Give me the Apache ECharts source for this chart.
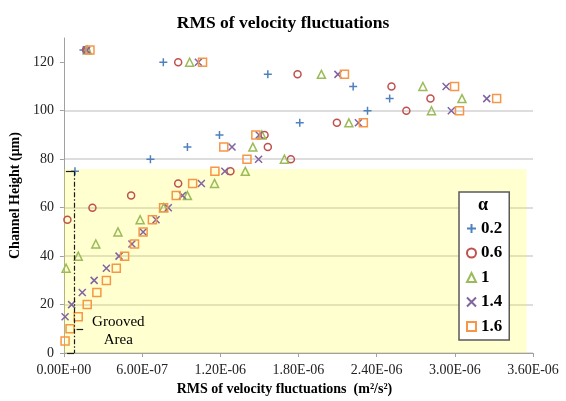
<!DOCTYPE html>
<html>
<head>
<meta charset="utf-8">
<script src="https://cdn.jsdelivr.net/npm/echarts@6/dist/echarts.min.js"></script>
<style>
  html, body { margin: 0; padding: 0; background: #fff; }
  #chart { width: 566px; height: 401px; }
</style>
</head>
<body>
<div id="chart"></div>
<script>
// Legend entries (alpha values)
const alphaNames = ['0.2', '0.6', '1', '1.4', '1.6'];

// Channel height (um) and RMS of velocity fluctuations (m^2/s^2) per alpha
const height02 = [75, 80, 85, 90, 95, 100, 105, 110, 115, 120, 125];
const rms02 = [8.5e-8, 6.64e-7, 9.48e-7, 1.194e-6, 1.81e-6, 2.33e-6, 2.50e-6, 2.22e-6, 1.565e-6, 7.63e-7, 1.5e-7];

const height06 = [55, 60, 65, 70, 75, 80, 85, 90, 95, 100, 105, 110, 115, 120, 125];
const rms06 = [2.7e-8, 2.19e-7, 5.16e-7, 8.77e-7, 1.278e-6, 1.742e-6, 1.565e-6, 1.54e-6, 2.095e-6, 2.628e-6, 2.813e-6, 2.514e-6, 1.793e-6, 8.77e-7, 1.7e-7];

const height10 = [35, 40, 45, 50, 55, 60, 65, 70, 75, 80, 85, 90, 95, 100, 105, 110, 115, 120, 125];
const rms10 = [1.7e-8, 1.1e-7, 2.45e-7, 4.15e-7, 5.85e-7, 7.65e-7, 9.48e-7, 1.156e-6, 1.392e-6, 1.692e-6, 1.45e-6, 1.519e-6, 2.187e-6, 2.821e-6, 3.055e-6, 2.755e-6, 1.976e-6, 9.65e-7, 1.8e-7];

const height14 = [15, 20, 25, 30, 35, 40, 45, 50, 55, 60, 65, 70, 75, 80, 85, 90, 95, 100, 105, 110, 115, 120, 125];
const rms14 = [9e-9, 5.9e-8, 1.41e-7, 2.32e-7, 3.26e-7, 4.23e-7, 5.22e-7, 6.08e-7, 7.07e-7, 8.01e-7, 9.1e-7, 1.055e-6, 1.235e-6, 1.494e-6, 1.29e-6, 1.498e-6, 2.26e-6, 2.973e-6, 3.245e-6, 2.933e-6, 2.103e-6, 1.032e-6, 1.75e-7];

const height16 = [5, 10, 15, 20, 25, 30, 35, 40, 45, 50, 55, 60, 65, 70, 75, 80, 85, 90, 95, 100, 105, 110, 115, 120, 125];
const rms16 = [9e-9, 4.7e-8, 1.1e-7, 1.79e-7, 2.53e-7, 3.26e-7, 4.02e-7, 4.66e-7, 5.42e-7, 6.08e-7, 6.79e-7, 7.65e-7, 8.62e-7, 9.88e-7, 1.159e-6, 1.405e-6, 1.227e-6, 1.473e-6, 2.298e-6, 3.036e-6, 3.321e-6, 2.998e-6, 2.153e-6, 1.064e-6, 2.0e-7];

// Axis ticks
const yTickValues = [0, 20, 40, 60, 80, 100, 120];

// Grooved region: top of the channel grooves (um) and its RMS extent
const groovedTop = 76;
const shadedRmsMax = 3.55e-6;

const SERIF = 'Liberation Serif';

function sci(v) {
  if (Math.abs(v) < 1e-15) return '0.00E+00';
  let e = Math.floor(Math.log10(Math.abs(v)));
  let m = v / Math.pow(10, e);
  if (Math.abs(m) >= 9.995) { m /= 10; e += 1; }
  const sign = e < 0 ? '-' : '+';
  return m.toFixed(2) + 'E' + sign + String(Math.abs(e)).padStart(2, '0');
}

function pairs(xs, ys) {
  return xs.map((x, i) => [x, ys[i]]);
}

const plusPath = 'path://M5,0L5,10M0,5L10,5';
const crossPath = 'path://M0,0L10,10M10,0L0,10';

function markSeries(name, xs, ys, symbol, color, size, hollow) {
  return {
    name: name,
    type: 'scatter',
    data: pairs(xs, ys),
    symbol: symbol,
    symbolSize: size,
    itemStyle: {
      color: hollow ? 'rgba(0,0,0,0)' : color,
      borderColor: color,
      borderWidth: 1.5,
      opacity: 1
    },
    emphasis: { disabled: true },
    z: 3
  };
}

const xb = 7.8e-8;
const bracketStyle = { color: '#1a1a1a', width: 1.2, type: [5, 2, 1.5, 2] };
const solidStyle = { color: '#1a1a1a', width: 1.2, type: 'solid' };

const chart = echarts.init(document.getElementById('chart'), null, { renderer: 'canvas' });

chart.setOption({
  animation: false,
  backgroundColor: '#fff',
  title: {
    text: 'RMS of velocity fluctuations',
    left: 'center',
    top: 9,
    textStyle: { fontFamily: SERIF, fontWeight: 'bold', fontSize: 17.5, color: '#000' }
  },
  grid: { left: 60.5, right: 33, top: 38, bottom: 44.5, containLabel: false },
  xAxis: {
    type: 'value',
    min: 0,
    max: 3.6e-6,
    interval: 6e-7,
    axisLine: { show: true, lineStyle: { color: '#a0a0a0', width: 1 } },
    axisTick: { show: true, length: 4, lineStyle: { color: '#a0a0a0' } },
    axisLabel: { formatter: sci, fontFamily: SERIF, fontSize: 14, color: '#222', margin: 10 },
    splitLine: { show: false },
    name: 'RMS of velocity fluctuations  (m\u00B2/s\u00B2)',
    nameLocation: 'middle',
    nameGap: 26,
    nameTextStyle: { fontFamily: SERIF, fontWeight: 'bold', fontSize: 14, color: '#000', padding: [0, 28, 0, 0] }
  },
  yAxis: {
    type: 'value',
    min: 0,
    max: 130,
    interval: 20,
    axisLine: { show: true, lineStyle: { color: '#a0a0a0', width: 1 } },
    axisTick: { show: true, length: 4, lineStyle: { color: '#a0a0a0' }, customValues: yTickValues },
    axisLabel: { customValues: yTickValues, fontFamily: SERIF, fontSize: 14, color: '#222', margin: 10 },
    splitLine: { show: true, showMaxLine: false, lineStyle: { color: '#d2d2d2', width: 1.5 } },
    name: 'Channel Height (\u03BCm)',
    nameLocation: 'middle',
    nameGap: 35,
    nameTextStyle: { fontFamily: SERIF, fontWeight: 'bold', fontSize: 14, color: '#000' }
  },
  legend: {
    data: alphaNames,
    orient: 'vertical',
    left: 459,
    top: 192,
    padding: [28, 7, 5, 7],
    itemWidth: 9,
    itemHeight: 9,
    itemGap: 7.5,
    backgroundColor: '#fff',
    borderColor: '#5a5a5a',
    borderWidth: 1.5,
    selectedMode: false,
    textStyle: { fontFamily: SERIF, fontWeight: 'bold', fontSize: 17, color: '#000' }
  },
  graphic: [
    { type: 'text', left: 478, top: 196, z: 100,
      style: { text: '\u03B1', font: 'bold 18px "Liberation Serif"', fill: '#000' } },
    { type: 'text', x: 118.3, y: 322, z: 100,
      style: { text: 'Grooved', font: '15px "Liberation Serif"', fill: '#000', align: 'center', verticalAlign: 'middle' } },
    { type: 'text', x: 118.3, y: 340, z: 100,
      style: { text: 'Area', font: '15px "Liberation Serif"', fill: '#000', align: 'center', verticalAlign: 'middle' } }
  ],
  series: [
    {
      name: 'grooved',
      type: 'scatter',
      data: [],
      silent: true,
      markArea: {
        silent: true,
        itemStyle: { color: 'rgba(255,255,0,0.19)' },
        data: [[{ coord: [0, 0] }, { coord: [shadedRmsMax, groovedTop] }]]
      },
      markLine: {
        silent: true,
        symbol: ['none', 'none'],
        label: { show: false },
        emphasis: { disabled: true },
        data: [
          [{ coord: [xb, 75], lineStyle: bracketStyle }, { coord: [xb, 0] }],
          [{ coord: [1.5e-8, 75], lineStyle: solidStyle }, { coord: [xb, 75] }],
          [{ coord: [2.5e-8, 0], lineStyle: solidStyle }, { coord: [xb, 0] }],
          [{ coord: [9.7e-8, 10], lineStyle: solidStyle }, { coord: [1.48e-7, 10] }]
        ]
      }
    },
    markSeries('0.2', rms02, height02, plusPath, '#4F81BD', 8, false),
    markSeries('0.6', rms06, height06, 'circle', '#C0504D', 7, true),
    markSeries('1', rms10, height10, 'triangle', '#9BBB59', 8, true),
    markSeries('1.4', rms14, height14, crossPath, '#8064A2', 7, false),
    markSeries('1.6', rms16, height16, 'rect', '#F79646', 8, true)
  ]
});
</script>
</body>
</html>
